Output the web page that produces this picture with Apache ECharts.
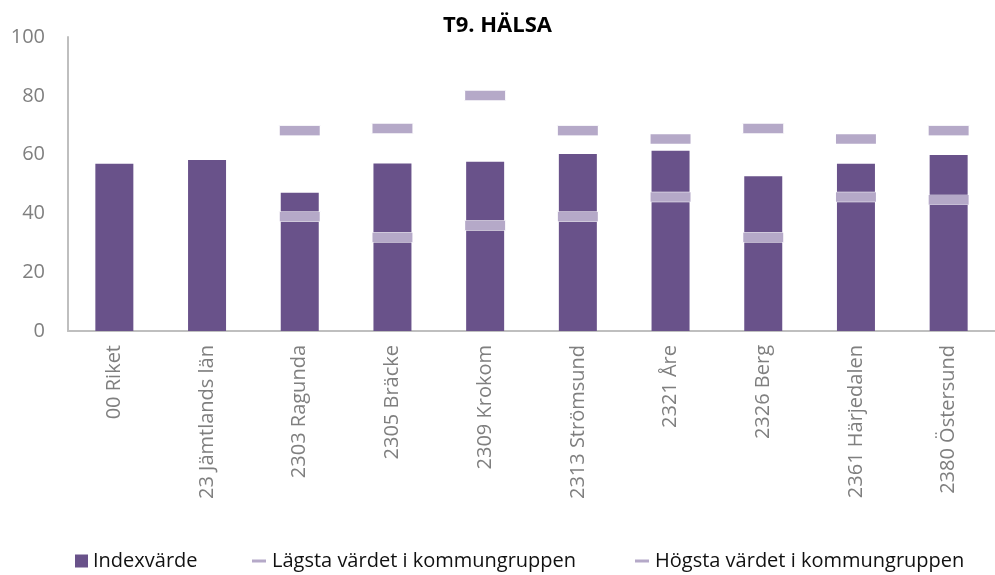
<!DOCTYPE html>
<html>
<head>
<meta charset="utf-8">
<script src="https://cdn.jsdelivr.net/npm/echarts@6/dist/echarts.min.js"></script>
<style>
  html, body { margin: 0; padding: 0; background: #fff; }
  #chart { width: 995px; height: 575px; }
</style>
</head>
<body>
<div id="chart"></div>
<script>
// kategorier och värden
var categories = ['00 Riket', '23 Jämtlands län', '2303 Ragunda', '2305 Bräcke', '2309 Krokom',
  '2313 Strömsund', '2321 Åre', '2326 Berg', '2361 Härjedalen', '2380 Östersund'];
var indexValues = [56.9, 58.2, 47.0, 57.0, 57.6, 60.2, 61.3, 52.6, 56.9, 59.9];
var lowestValues = ['-', '-', 38.9, 31.9, 35.9, 38.9, 45.6, 31.9, 45.6, 44.6];
var highestValues = ['-', '-', 68.1, 68.9, 80.1, 68.1, 65.3, 68.9, 65.3, 68.1];

var barColor = '#69528a';
var markColor = '#b5a9c8';
var font = 'Open Sans';

var chart = echarts.init(document.getElementById('chart'));

var option = {
  animation: false,
  textStyle: { fontFamily: font },
  title: {
    text: 'T9. HÄLSA',
    left: 'center',
    top: 10,
    textStyle: { fontSize: 22, fontWeight: 'bold', color: '#000', fontFamily: font }
  },
  legend: [
    {
      data: [{ name: 'Indexvärde', icon: 'rect' }],
      left: 70, top: 546,
      itemWidth: 13, itemHeight: 13,
      textStyle: { fontSize: 20, color: '#111', fontFamily: font }
    },
    {
      data: [{ name: 'Lägsta värdet i kommungruppen', icon: 'rect' }],
      left: 245, top: 546,
      itemWidth: 16, itemHeight: 5,
      textStyle: { fontSize: 20, color: '#111', fontFamily: font }
    },
    {
      data: [{ name: 'Högsta värdet i kommungruppen', icon: 'rect' }],
      left: 628, top: 546,
      itemWidth: 16, itemHeight: 5,
      textStyle: { fontSize: 20, color: '#111', fontFamily: font }
    }
  ],
  grid: {
    left: 68,
    right: -13,
    top: 37,
    bottom: 244,
    containLabel: false
  },
  xAxis: {
    type: 'category',
    data: categories,
    axisLine: { lineStyle: { color: '#bfbfbf', width: 2 } },
    axisTick: { show: false },
    axisLabel: {
      rotate: 90,
      margin: 14,
      fontSize: 20,
      color: '#7f7f7f',
      fontFamily: font,
      interval: 0
    }
  },
  yAxis: {
    type: 'value',
    min: 0,
    max: 100,
    interval: 20,
    axisLine: { show: true, lineStyle: { color: '#bfbfbf', width: 2 } },
    axisTick: { show: false },
    splitLine: { show: false },
    axisLabel: { margin: 23, fontSize: 20, color: '#7f7f7f', fontFamily: font }
  },
  series: [
    {
      name: 'Indexvärde',
      type: 'bar',
      data: indexValues,
      barWidth: 38,
      itemStyle: { color: barColor }
    },
    {
      name: 'Lägsta värdet i kommungruppen',
      type: 'scatter',
      data: lowestValues,
      symbol: 'rect',
      symbolSize: [42, 10],
      z: 3,
      itemStyle: { color: markColor, borderColor: '#fff', borderWidth: 1, opacity: 1 }
    },
    {
      name: 'Högsta värdet i kommungruppen',
      type: 'scatter',
      data: highestValues,
      symbol: 'rect',
      symbolSize: [42, 10],
      z: 3,
      itemStyle: { color: markColor, borderColor: '#fff', borderWidth: 1, opacity: 1 }
    }
  ]
};

chart.setOption(option);
</script>
</body>
</html>
